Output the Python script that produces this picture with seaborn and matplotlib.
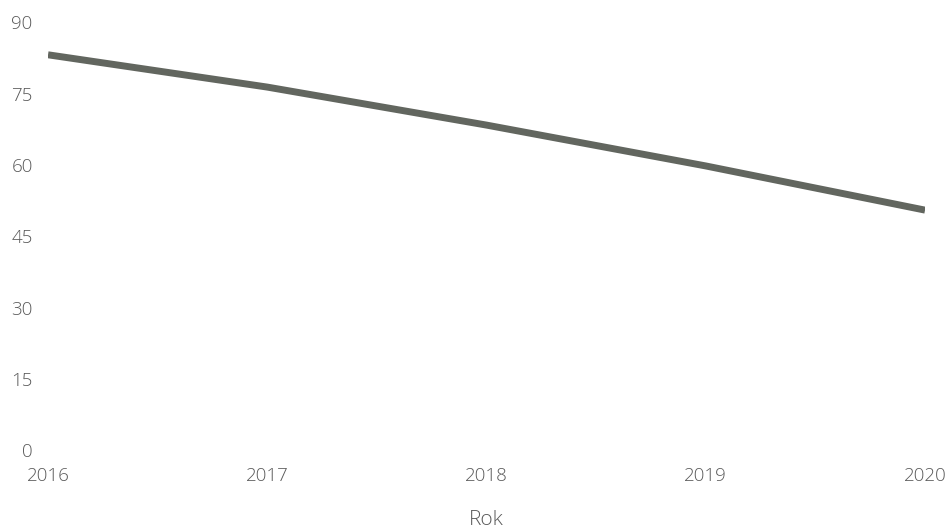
import matplotlib
matplotlib.use("Agg")
import matplotlib.pyplot as plt
import seaborn as sns
import pandas as pd

years = [2016, 2017, 2018, 2019, 2020]
values = [83.2, 76.4, 68.4, 59.8, 50.5]
y_ticks = [0, 15, 30, 45, 60, 75, 90]
x_label = "Rok"

sns.set_style("white")
plt.rcParams['font.family'] = ['Open Sans', 'DejaVu Sans']

df = pd.DataFrame({"Rok": years, "Wartość": values})

fig = plt.figure(figsize=(9.51, 5.29), dpi=100)
ax = fig.add_axes([0.0505, 0.1493, 0.9222, 0.8082])

sns.lineplot(data=df, x="Rok", y="Wartość", ax=ax, color="#62665f",
             linewidth=5.0, solid_capstyle="butt")

ax.set_xlim(years[0], years[-1])
ax.set_ylim(0, 90)
ax.set_xticks(years)
ax.set_xticklabels([str(y) for y in years])
ax.set_yticks(y_ticks)
ax.set_yticklabels([str(v) for v in y_ticks])

for s in ax.spines.values():
    s.set_visible(False)
ax.grid(False)

tick_color = "#5a5a5a"
for lab in ax.get_xticklabels() + ax.get_yticklabels():
    lab.set_fontweight(300)
ax.tick_params(axis="y", length=0, pad=11, labelsize=13.5, labelcolor=tick_color)
ax.tick_params(axis="x", length=0, pad=12, labelsize=13.5, labelcolor=tick_color)

ax.set_xlabel(x_label, fontsize=15, color=tick_color, labelpad=18, fontweight=300)
ax.set_ylabel("")

fig.savefig("out.png", dpi=100)
